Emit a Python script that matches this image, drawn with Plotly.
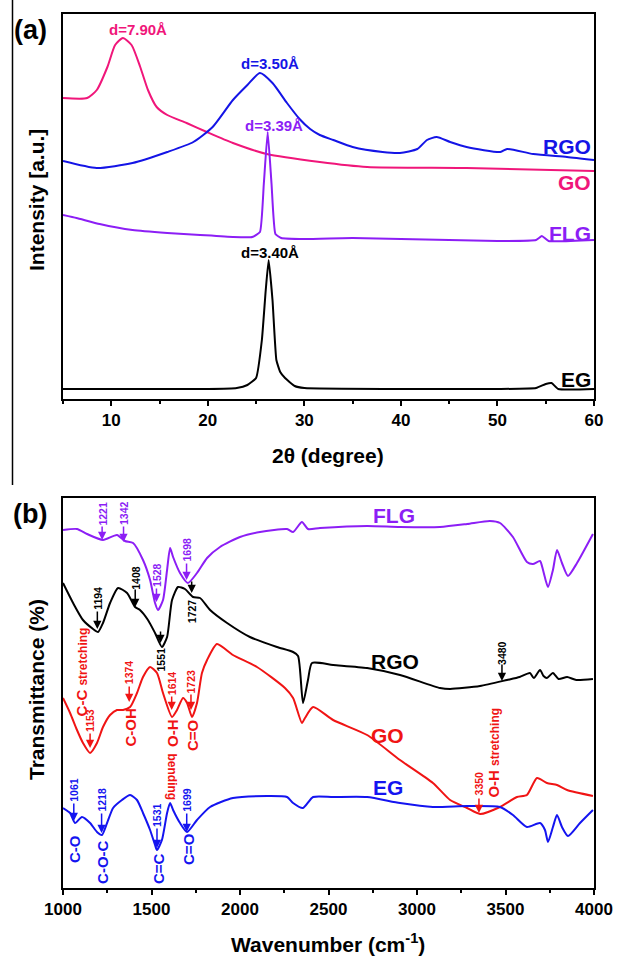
import plotly.graph_objects as go

W, H = 617, 958
FONT = "Liberation Sans, Arial, sans-serif"

# ---------------- (a) XRD data (intensity in arbitrary units) ----------------
xrd_go_2theta = [5, 7.5, 8.5, 9.6, 10.4, 11.2, 12.1, 13.0, 13.8, 14.7, 15.8, 17.8, 19.9, 22.6, 26.1, 31.6, 36.5, 46.8, 60]
xrd_go_int = [301, 301, 309, 332, 354, 361, 354, 332, 309, 292, 284, 276, 267, 256, 245, 237, 232, 231, 228]

xrd_rgo_2theta = [5, 8.5, 12.2, 15.8, 18.5, 20.5, 22.6, 24.1, 25.4, 26.7, 28.2, 29.5, 30.6, 31.6, 33.0, 35.0,
                  38.1, 39.9, 41.7, 42.7, 43.7, 45.1, 46.8, 50.3, 51.0, 53.7, 57.2, 60]
xrd_rgo_int = [238, 231, 236, 247, 257, 272, 299, 314, 326, 316, 296, 280, 270, 264, 259, 252,
               247, 246, 250, 259, 262, 257, 252, 247, 250, 245, 242, 239]

xrd_flg_2theta = [5, 6.4, 8.8, 12.2, 15.8, 19.2, 22.6, 24.6, 25.4, 25.8, 26.2, 26.6, 27.0, 27.6,
                  30, 35, 40, 45, 50, 54.0, 54.6, 55.3, 60]
xrd_flg_int = [184, 181, 175, 169, 166, 164, 162, 162, 167, 215, 267, 215, 165, 161,
               160, 161, 160, 159, 158, 159, 163, 158, 159]

xrd_eg_2theta = [5, 15, 20, 23, 24.1, 25.0, 25.6, 26.0, 26.3, 26.7, 27.1, 27.5, 28.0, 29, 30,
                 40, 50, 54.0, 55.0, 55.6, 56.3, 60]
xrd_eg_int = [10, 10, 10, 11, 14, 21, 59, 109, 139, 99, 39, 27, 21, 13, 11,
              10, 10, 11, 15, 16, 10, 10]

xrd_d_labels = ["d=7.90Å", "d=3.50Å", "d=3.39Å", "d=3.40Å"]
xrd_d_series = ["GO", "RGO", "FLG", "EG"]
xrd_d_x = [12.8, 26.4, 26.9, 26.4]
xrd_d_y = [369, 335, 274, 147]

xrd_names = ["RGO", "GO", "FLG", "EG"]
xrd_name_y = [253, 217, 166, 20]

# ---------------- (b) FTIR data (transmittance, arbitrary offsets) ----------------
ftir_flg_wn = [1000, 1079, 1136, 1226, 1305, 1350, 1396, 1452, 1492, 1520, 1537, 1565, 1588, 1605, 1622,
               1661, 1706, 1757, 1814, 1887, 2000, 2113, 2266, 2300, 2350, 2384, 2452, 2718, 2904, 3130,
               3283, 3412, 3469, 3542, 3621, 3655, 3695, 3712, 3740, 3768, 3791, 3819, 3853, 3904, 3994]
ftir_flg_t = [358, 359, 354, 348, 353, 347, 345, 328, 308, 285, 278, 288, 318, 340, 331,
              315, 305, 315, 330, 341, 351, 356, 359, 356, 366, 359, 360, 362, 361, 361,
              364, 367, 365, 351, 326, 324, 327, 318, 301, 318, 338, 325, 312, 325, 354]

ftir_rgo_wn = [1000, 1057, 1113, 1170, 1198, 1226, 1266, 1311, 1362, 1407, 1435, 1480, 1520, 1559, 1588,
               1616, 1650, 1689, 1735, 1774, 1831, 1927, 2056, 2209, 2300, 2328, 2356, 2384, 2407, 2526,
               2718, 2904, 3130, 3187, 3356, 3508, 3580, 3638, 3660, 3695, 3715, 3734, 3768, 3800, 3848,
               3900, 3994]
ftir_rgo_t = [305, 285, 268, 259, 256, 265, 285, 300, 295, 281, 278, 268, 255, 241, 251,
              288, 301, 299, 291, 290, 278, 265, 251, 241, 236, 232, 185, 208, 225, 223,
              220, 213, 200, 199, 202, 208, 211, 215, 210, 218, 212, 210, 215, 209, 211,
              208, 209]

ftir_go_wn = [1000, 1040, 1079, 1113, 1153, 1192, 1226, 1266, 1305, 1339, 1379, 1418, 1452, 1492, 1531,
              1565, 1616, 1644, 1678, 1701, 1729, 1757, 1785, 1814, 1870, 1960, 2096, 2254, 2300, 2350,
              2367, 2413, 2526, 2718, 2904, 3090, 3187, 3283, 3356, 3469, 3565, 3621, 3678, 3734, 3791,
              3848, 3994]
ftir_go_t = [190, 175, 158, 145, 135, 145, 161, 173, 178, 178, 181, 195, 211, 221, 215,
             195, 171, 178, 190, 185, 171, 185, 215, 228, 244, 233, 221, 200, 190, 165,
             170, 181, 168, 153, 128, 105, 88, 80, 74, 81, 91, 93, 110, 105, 103,
             98, 92]

ftir_eg_wn = [1000, 1040, 1068, 1107, 1153, 1192, 1220, 1249, 1283, 1333, 1379, 1418, 1452, 1492, 1520,
              1531, 1559, 1588, 1605, 1622, 1661, 1701, 1757, 1831, 1960, 2153, 2266, 2300, 2356, 2413,
              2526, 2718, 2904, 3090, 3283, 3469, 3542, 3621, 3695, 3723, 3740, 3768, 3791, 3819, 3853,
              3921, 3994]
ftir_eg_t = [80, 75, 65, 71, 65, 56, 53, 65, 80, 88, 93, 88, 75, 58, 43,
             38, 48, 75, 85, 78, 65, 56, 68, 81, 90, 92, 91, 85, 80, 91,
             91, 91, 85, 81, 82, 81, 73, 61, 65, 58, 46, 61, 73, 61, 52,
             65, 78]

# peak assignments with arrows
peak_labels = ["1221", "1342", "1528", "1698", "1194", "1408", "1551", "1727", "3480",
               "1153", "1374", "1614", "1723", "3350", "1061", "1218", "1531", "1699"]
peak_series = ["FLG"] * 4 + ["RGO"] * 5 + ["GO"] * 5 + ["EG"] * 4
peak_tip = [348, 346, 286, 308, 259, 281, 245, 295, 207, 140, 186, 178, 178, 75, 67, 55, 40, 56]
peak_tail = [363, 363, 301, 326, 278, 300, 258, 308, 225, 156, 203, 193, 195, 91, 86, 76, 61, 76]
peak_text_y = [374.5, 374.5, 313.5, 338, 289.5, 310.5, 228, 276.5, 235, 167, 216, 204.5, 206.5, 104.5,
               98, 88, 73, 88]

# functional-group labels
group_text = ["C-C <span style='font-size:12px'>stretching</span>", "C-OH", "O-H",
              "<span style='font-size:12px'>bending</span>", "C=O",
              "O-H <span style='font-size:12px'>stretching</span>", "C-O", "C-O-C", "C=C", "C=O"]
group_series = ["GO"] * 6 + ["EG"] * 4
group_wn = [1107, 1379, 1616, 1616, 1729, 3430, 1062, 1220, 1537, 1706]
group_y = [216.5, 160.5, 155, 111.5, 153, 135.5, 39, 26, 19, 39]
group_angle = [-90, -90, -90, 90, -90, -90, -90, -90, -90, -90]

ftir_names = ["FLG", "RGO", "GO", "EG"]
ftir_name_wn = [2870, 2876, 2831, 2836]
ftir_name_y = [373, 227, 153, 101]

# ---------------- styling ----------------
xrd_colors = {"GO": "#f0167a", "RGO": "#1414e6", "FLG": "#8c1ef5", "EG": "#000000"}
ftir_colors = {"FLG": "#8c1ef5", "RGO": "#000000", "GO": "#f01414", "EG": "#1414f0"}


def px(x):
    return x / W


def py(y):
    return 1 - y / H


fig = go.Figure()


def add_line(x, y, color, xa, ya, smoothing=0.6):
    fig.add_trace(go.Scatter(x=x, y=y, xaxis=xa, yaxis=ya, mode="lines",
                             line=dict(color=color, width=2, shape="spline", smoothing=smoothing),
                             showlegend=False, hoverinfo="skip"))


add_line(xrd_go_2theta, xrd_go_int, xrd_colors["GO"], "x", "y")
add_line(xrd_rgo_2theta, xrd_rgo_int, xrd_colors["RGO"], "x", "y")
add_line(xrd_flg_2theta, xrd_flg_int, xrd_colors["FLG"], "x", "y", 0.4)
add_line(xrd_eg_2theta, xrd_eg_int, xrd_colors["EG"], "x", "y", 0.4)

add_line(ftir_flg_wn, ftir_flg_t, ftir_colors["FLG"], "x2", "y2")
add_line(ftir_rgo_wn, ftir_rgo_t, ftir_colors["RGO"], "x2", "y2")
add_line(ftir_go_wn, ftir_go_t, ftir_colors["GO"], "x2", "y2")
add_line(ftir_eg_wn, ftir_eg_t, ftir_colors["EG"], "x2", "y2")

ann = []
# XRD d-spacing labels
for t, s, x, y in zip(xrd_d_labels, xrd_d_series, xrd_d_x, xrd_d_y):
    ann.append(dict(x=x, y=y, xref="x", yref="y", text=t, showarrow=False,
                    font=dict(family=FONT, size=15, color=xrd_colors[s], weight="bold")))
# XRD sample names
for n, y in zip(xrd_names, xrd_name_y):
    ann.append(dict(x=59.9, y=y, xref="x", yref="y", text=n, showarrow=False, xanchor="right",
                    font=dict(family=FONT, size=21, color=xrd_colors[n], weight="bold")))
# FTIR sample names
for n, x, y in zip(ftir_names, ftir_name_wn, ftir_name_y):
    ann.append(dict(x=x, y=y, xref="x2", yref="y2", text=n, showarrow=False,
                    font=dict(family=FONT, size=21, color=ftir_colors[n], weight="bold")))
# FTIR peak arrows + numbers
for lab, s, tip, tail, ty in zip(peak_labels, peak_series, peak_tip, peak_tail, peak_text_y):
    wn = float(lab)
    c = ftir_colors[s]
    ann.append(dict(x=wn, y=tip, xref="x2", yref="y2", ax=wn, ay=tail, axref="x2", ayref="y2",
                    text="", showarrow=True, arrowhead=2, arrowsize=1.1, arrowwidth=1.5,
                    arrowcolor=c, standoff=0, startstandoff=0))
    ann.append(dict(x=wn, y=ty, xref="x2", yref="y2", text=lab, showarrow=False, textangle=-90,
                    font=dict(family=FONT, size=10.5, color=c, weight="bold")))
# FTIR group labels
for t, s, x, y, a in zip(group_text, group_series, group_wn, group_y, group_angle):
    ann.append(dict(x=x, y=y, xref="x2", yref="y2", text=t, showarrow=False, textangle=a,
                    font=dict(family=FONT, size=15, color=ftir_colors[s], weight="bold")))


def paper_text(x, y, text, size, angle=0):
    ann.append(dict(x=px(x), y=py(y), xref="paper", yref="paper", text=text, showarrow=False,
                    xanchor="center", yanchor="middle", textangle=angle,
                    font=dict(family=FONT, size=size, color="black", weight="bold")))


# panel letters and axis titles
paper_text(30, 30, "(a)", 27)
paper_text(30, 514, "(b)", 27)
paper_text(328, 456, "2θ (degree)", 21)
paper_text(328, 943, "Wavenumber (cm<sup>-1</sup>)", 21)
paper_text(36, 200, "Intensity [a.u.]", 21, -90)
paper_text(36, 690, "Transmittance (%)", 21, -90)

axis_common = dict(showline=True, linecolor="black", linewidth=2, mirror=True, showgrid=False,
                   zeroline=False, automargin=False)
xdom = [px(63), px(594)]

fig.update_layout(
    template="none",
    width=W, height=H, margin=dict(l=0, r=0, t=0, b=0, pad=0, autoexpand=False),
    paper_bgcolor="white", plot_bgcolor="white",
    font=dict(family=FONT),
    showlegend=False,
    xaxis=dict(domain=xdom, anchor="y", range=[5, 60], tick0=0, dtick=10, ticks="outside", ticklen=5,
               tickwidth=1.5, tickcolor="black",
               tickfont=dict(family=FONT, size=17, color="black", weight="bold"),
               minor=dict(tick0=0, dtick=5, ticks="outside", ticklen=3, tickwidth=1.5, tickcolor="black",
                          showgrid=False),
               **axis_common),
    yaxis=dict(domain=[py(399), py(14)], anchor="x", range=[0, 385], showticklabels=False, ticks="",
               **axis_common),
    xaxis2=dict(domain=xdom, anchor="y2", range=[1000, 4000], tick0=0, dtick=500, ticks="outside",
                ticklen=5, tickwidth=1.5, tickcolor="black",
                tickfont=dict(family=FONT, size=17, color="black", weight="bold"),
                minor=dict(tick0=0, dtick=250, ticks="outside", ticklen=3, tickwidth=1.5, tickcolor="black",
                           showgrid=False),
                **axis_common),
    yaxis2=dict(domain=[py(888), py(498)], anchor="x2", range=[0, 390], showticklabels=False, ticks="",
                **axis_common),
    annotations=ann,
    shapes=[dict(type="line", xref="paper", yref="paper", x0=px(12.5), x1=px(12.5), y0=py(0), y1=py(485),
                 line=dict(color="black", width=1.5))],
)

fig.write_html("out.html")
